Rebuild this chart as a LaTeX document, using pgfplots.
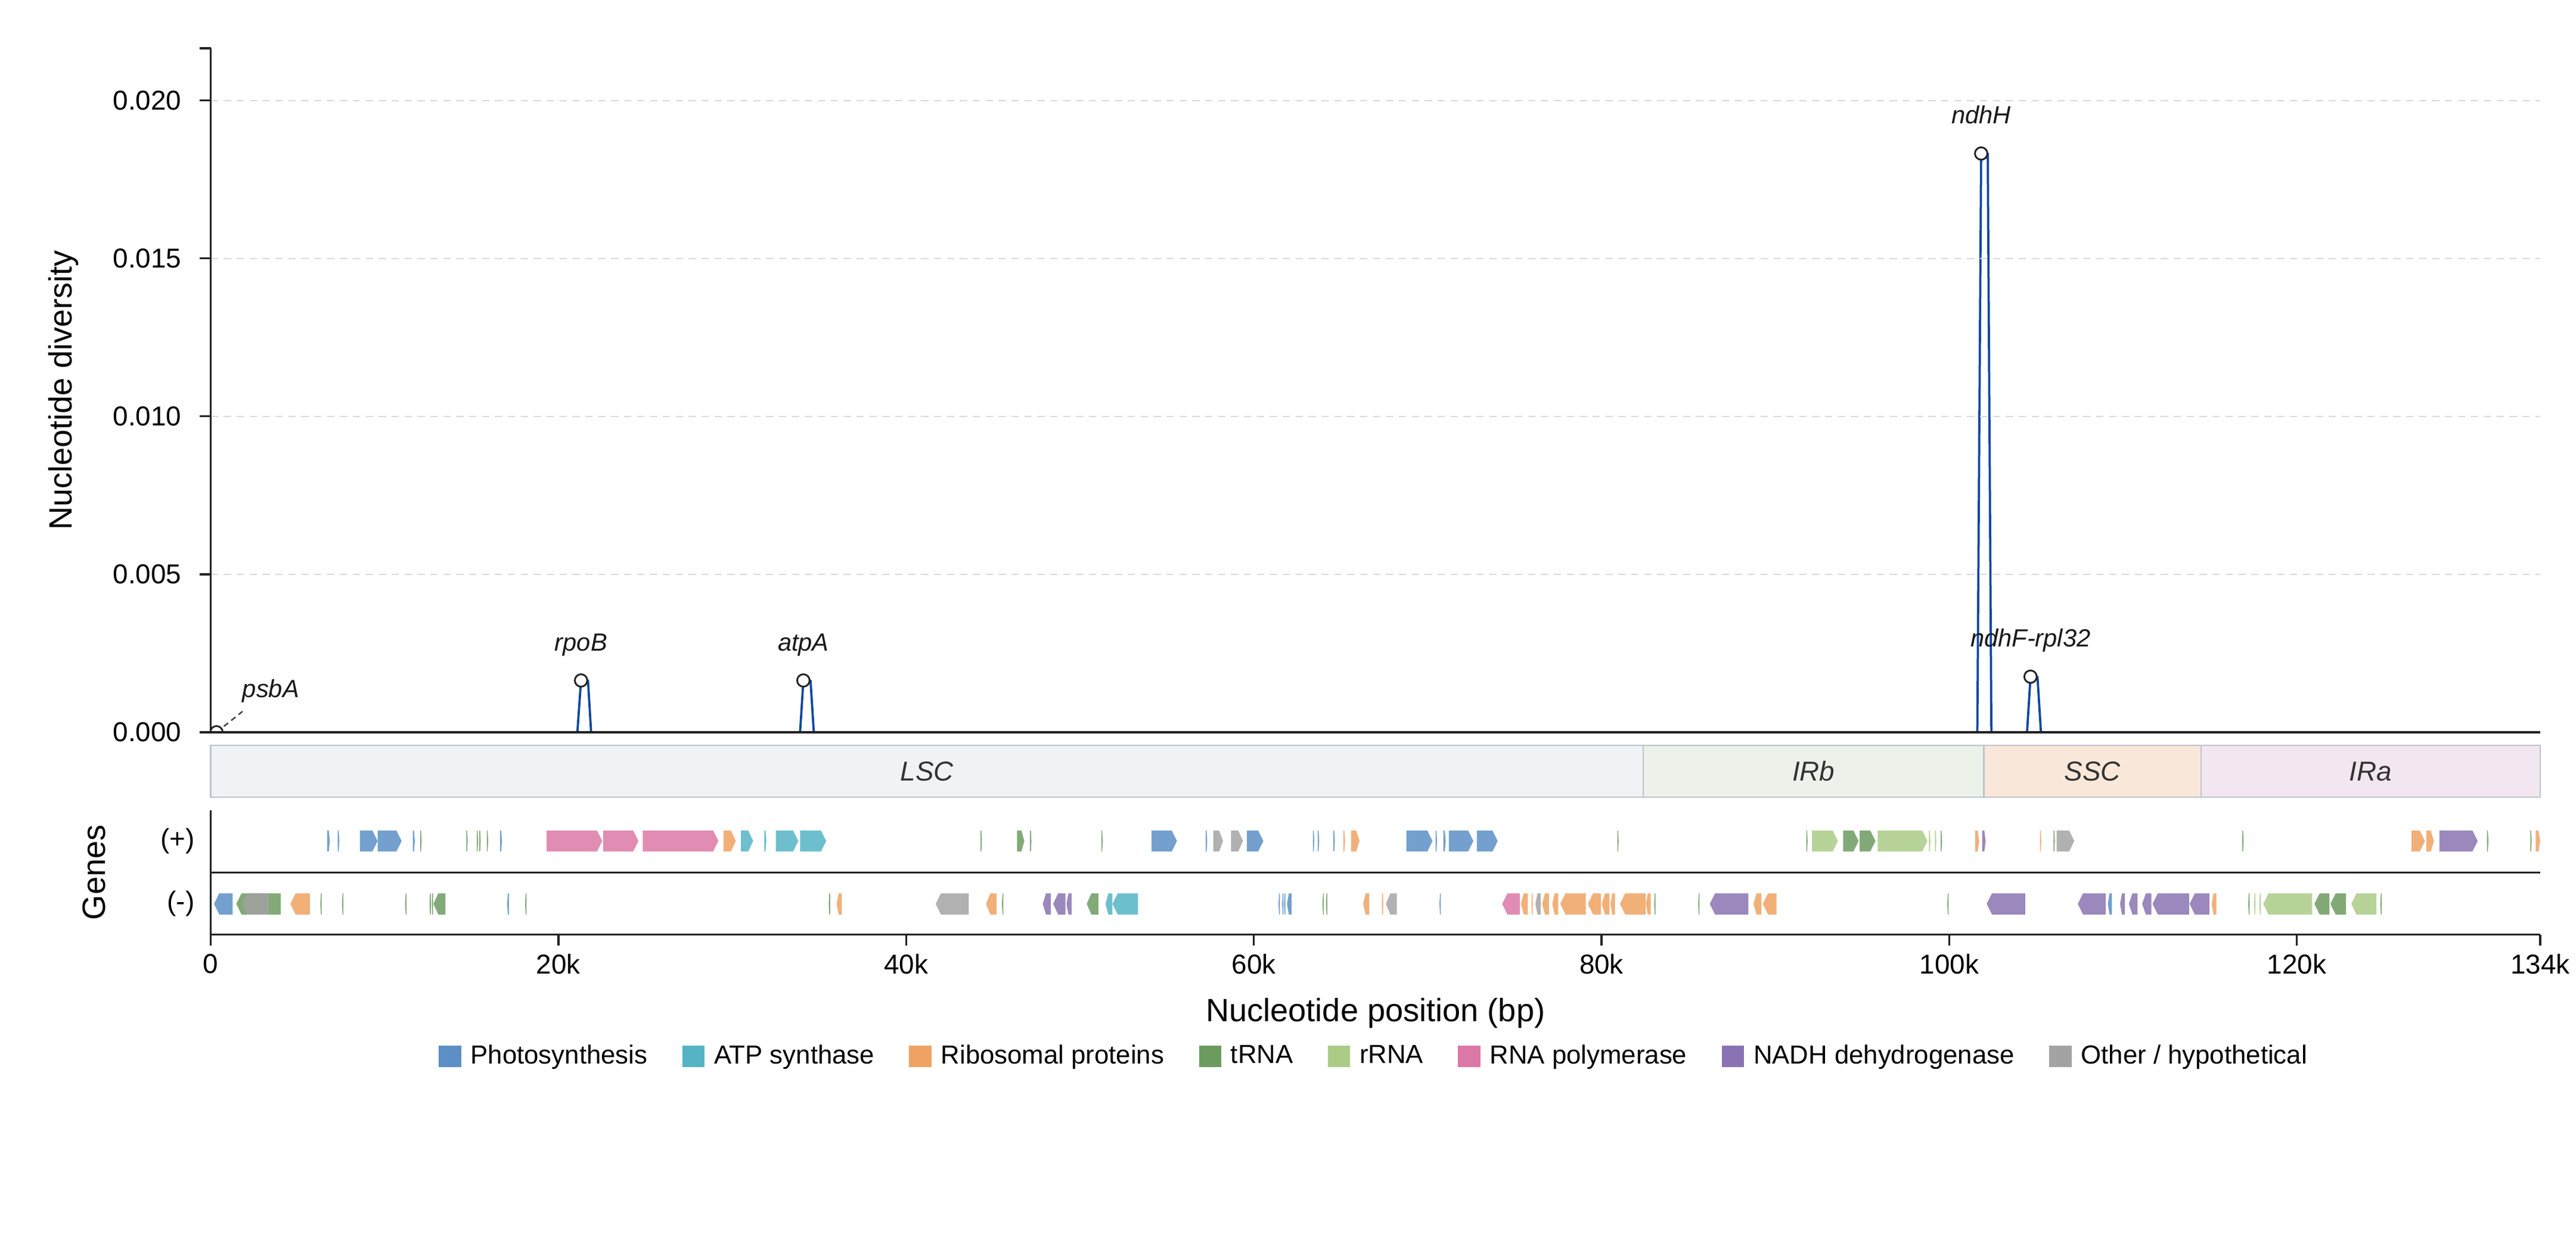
\documentclass[border=0pt]{standalone}
\usepackage{fontspec}
\setmainfont{Liberation Sans}
\usepackage{pgfplots}
\usepackage{pgfplotstable}
\pgfplotsset{compat=1.18}

\definecolor{cPhoto}{RGB}{91,143,198}
\definecolor{cATP}{RGB}{85,180,196}
\definecolor{cRibo}{RGB}{240,162,98}
\definecolor{cTRNA}{RGB}{108,155,95}
\definecolor{cRRNA}{RGB}{171,203,134}
\definecolor{cRNAP}{RGB}{220,120,166}
\definecolor{cNADH}{RGB}{138,115,178}
\definecolor{cOther}{RGB}{163,163,163}
\definecolor{cLine}{RGB}{12,72,160}
\definecolor{cAxis}{RGB}{34,34,34}
\definecolor{cGrid}{RGB}{214,219,224}
\definecolor{cRegB}{RGB}{187,196,206}
\definecolor{cLSC}{RGB}{239,243,246}
\definecolor{cIRb}{RGB}{236,242,233}
\definecolor{cSSC}{RGB}{249,232,217}
\definecolor{cIRa}{RGB}{242,230,241}
\definecolor{cLab}{RGB}{51,51,51}

% gene arrow: drawn from start s, length (e-s) kb, 7pt per kb
\pgfdeclareplotmark{gene}{%
  \pgfmathsetmacro\gLen{(\gE-\gS)*7.0}%
  \pgfmathsetmacro\gTip{min(0.3,0.4*(\gE-\gS))*7.0}%
  \pgfmathsetmacro\gMid{\gLen-\gTip}%
  \ifdim\gD pt>0pt\relax
    \pgfpathmoveto{\pgfqpoint{0pt}{-4.24pt}}%
    \pgfpathlineto{\pgfqpoint{\gMid pt}{-4.24pt}}%
    \pgfpathlineto{\pgfqpoint{\gLen pt}{0pt}}%
    \pgfpathlineto{\pgfqpoint{\gMid pt}{4.24pt}}%
    \pgfpathlineto{\pgfqpoint{0pt}{4.24pt}}%
  \else
    \pgfpathmoveto{\pgfqpoint{0pt}{0pt}}%
    \pgfpathlineto{\pgfqpoint{\gTip pt}{-4.24pt}}%
    \pgfpathlineto{\pgfqpoint{\gLen pt}{-4.24pt}}%
    \pgfpathlineto{\pgfqpoint{\gLen pt}{4.24pt}}%
    \pgfpathlineto{\pgfqpoint{\gTip pt}{4.24pt}}%
  \fi
  \pgfpathclose
  \pgfusepathqfill
}

\pgfplotsset{
  genes/.style={only marks, scatter, mark=gene, point meta=y, forget plot,
    scatter/@pre marker code/.code={}, scatter/@post marker code/.code={},
    visualization depends on={\thisrow{s}\as\gS},
    visualization depends on={\thisrow{e}\as\gE},
    visualization depends on={\thisrow{d}\as\gD},
    mark options={draw=none, fill=#1, fill opacity=0.85}},
}
\tikzset{
  lab/.style={font=\itshape\fontsize{10}{12}\selectfont, text=black!90, inner sep=0pt},
  reg/.style={font=\itshape\fontsize{11}{13}\selectfont, text=cLab},
}

% positions in kb, d = strand
\pgfplotstableread{
s e d
6.70 6.85 1
7.30 7.40 1
8.58 9.60 1
9.60 10.98 1
11.62 11.74 1
16.65 16.75 1
54.12 55.58 1
57.24 57.32 1
59.61 60.55 1
63.40 63.48 1
63.68 63.76 1
64.58 64.66 1
68.78 70.28 1
70.46 70.54 1
70.90 71.04 1
71.22 72.63 1
72.83 74.03 1
0.19 1.26 -1
17.05 17.15 -1
61.42 61.50 -1
61.63 61.71 -1
61.74 61.82 -1
61.91 62.17 -1
70.68 70.76 -1
109.13 109.36 -1
}\tabPhoto

\pgfplotstableread{
s e d
30.50 31.20 1
31.84 31.96 1
32.50 33.80 1
33.90 35.40 1
51.47 51.87 -1
51.87 53.34 -1
}\tabATP

\pgfplotstableread{
s e d
29.50 30.20 1
65.15 65.25 1
65.60 66.08 1
101.49 101.73 1
105.22 105.30 1
126.60 127.37 1
127.45 127.88 1
133.74 134.00 1
4.58 5.70 -1
36.00 36.30 -1
44.60 45.20 -1
66.29 66.64 -1
67.36 67.44 -1
75.37 75.76 -1
75.97 76.05 -1
76.59 76.98 -1
77.17 77.51 -1
77.63 79.10 -1
79.22 79.96 -1
80.02 80.46 -1
80.52 80.78 -1
81.06 82.53 -1
82.55 82.83 -1
88.74 89.20 -1
89.28 90.07 -1
115.10 115.37 -1
}\tabRibo

\pgfplotstableread{
s e d
12.05 12.13 1
14.70 14.78 1
15.30 15.38 1
15.45 15.53 1
15.88 15.96 1
44.28 44.36 1
46.38 46.80 1
47.13 47.21 1
51.23 51.31 1
80.91 80.99 1
91.78 91.86 1
93.90 94.79 1
94.85 95.76 1
99.51 99.59 1
106.00 106.08 1
116.86 116.94 1
130.94 131.02 1
133.43 133.51 1
1.47 4.02 -1
6.30 6.38 -1
7.55 7.63 -1
11.18 11.26 -1
12.58 12.66 -1
12.71 12.79 -1
12.81 13.50 -1
18.08 18.16 -1
35.55 35.63 -1
45.51 45.59 -1
50.39 51.06 -1
63.95 64.03 -1
64.15 64.23 -1
83.03 83.11 -1
85.56 85.64 -1
99.89 99.97 -1
117.20 117.28 -1
121.01 121.88 -1
121.93 122.83 -1
124.80 124.88 -1
}\tabTRNA

\pgfplotstableread{
s e d
92.11 93.60 1
95.89 98.75 1
98.84 98.92 1
99.18 99.26 1
117.54 117.62 -1
117.84 117.92 -1
118.07 120.88 -1
123.13 124.58 -1
}\tabRRNA

\pgfplotstableread{
s e d
19.32 22.52 1
22.58 24.60 1
24.85 29.20 1
74.29 75.30 -1
}\tabRNAP

\pgfplotstableread{
s e d
101.90 102.10 1
128.20 130.40 1
47.86 48.32 -1
48.46 49.17 -1
49.22 49.52 -1
86.23 88.45 -1
102.16 104.37 -1
107.40 109.00 -1
109.83 110.11 -1
110.34 110.84 -1
111.10 111.63 -1
111.70 113.80 -1
113.83 114.97 -1
}\tabNADH

\pgfplotstableread{
s e d
57.67 58.23 1
58.69 59.38 1
106.18 107.20 1
1.80 3.35 -1
41.70 43.60 -1
67.60 68.23 -1
76.20 76.50 -1
}\tabOther

\begin{document}
\begin{tikzpicture}

% diversity panel
\begin{axis}[
    at={(84.86pt,209.52pt)}, anchor=south west,
    scale only axis, width=938pt, height=275.5pt,
    xmin=0, xmax=134, ymin=0, ymax=0.02165,
    axis x line*=bottom, axis y line*=left,
    xtick=\empty,
    ytick={0,0.005,0.01,0.015,0.02},
    yticklabels={0.000,0.005,0.010,0.015,0.020},
    scaled y ticks=false,
    extra y ticks={0.02165}, extra y tick labels={},
    extra y tick style={grid=none},
    ymajorgrids,
    major grid style={draw=cGrid, line width=0.5pt, dash pattern=on 3pt off 2.2pt},
    tick align=outside, major tick length=4.5pt,
    axis line style={line width=0.8pt, draw=cAxis},
    tick style={line width=0.8pt, draw=cAxis},
    tick label style={font=\fontsize{11}{13}\selectfont},
    yticklabel style={xshift=-3.8pt},
    ylabel={Nucleotide diversity},
    every axis y label/.style={at={(axis description cs:0,0.5)}, xshift=-59.2pt,
        rotate=90, anchor=center, font=\fontsize{13}{15}\selectfont},
    axis on top, clip marker paths=true,
]
\addplot[cLine, line width=0.9pt, line join=round] coordinates {
    (0,0) (21.09,0) (21.30,0.00164) (21.70,0.00164) (21.88,0)
    (33.90,0) (34.09,0.00164) (34.50,0.00164) (34.69,0)
    (101.62,0) (101.84,0.01832) (102.22,0.01832) (102.43,0)
    (104.48,0) (104.68,0.00176) (105.08,0.00176) (105.28,0) (134,0)
};
\addplot[cAxis!85, line width=0.6pt, dash pattern=on 2.2pt off 1.6pt] coordinates {(0.33,0) (1.83,0.00066)};
\addplot[only marks, mark=*, mark size=2.5pt,
    mark options={fill=white, draw=cAxis, line width=0.7pt}] coordinates {
    (0.33,0) (21.30,0.00164) (34.09,0.00164) (101.84,0.01832) (104.68,0.00176)
};
\node[lab, anchor=base west] at (axis cs:1.80,0.0011) {psbA};
\node[lab, anchor=base, yshift=12pt] at (axis cs:21.30,0.00164) {rpoB};
\node[lab, anchor=base, yshift=12pt] at (axis cs:34.09,0.00164) {atpA};
\node[lab, anchor=base, yshift=12pt] at (axis cs:101.84,0.01832) {ndhH};
\node[lab, anchor=base, yshift=12pt] at (axis cs:104.68,0.00176) {ndhF-rpl32};
\end{axis}

% genome regions
\begin{axis}[
    at={(84.86pt,183.36pt)}, anchor=south west,
    scale only axis, width=938pt, height=20.88pt,
    xmin=0, xmax=134, ymin=0, ymax=1,
    hide axis, clip=false,
]
\addplot[fill=cLSC, draw=cRegB, line width=0.6pt] coordinates {(0,0) (82.4,0) (82.4,1) (0,1)} -- cycle;
\addplot[fill=cIRb, draw=cRegB, line width=0.6pt] coordinates {(82.4,0) (102.0,0) (102.0,1) (82.4,1)} -- cycle;
\addplot[fill=cSSC, draw=cRegB, line width=0.6pt] coordinates {(102.0,0) (114.5,0) (114.5,1) (102.0,1)} -- cycle;
\addplot[fill=cIRa, draw=cRegB, line width=0.6pt] coordinates {(114.5,0) (134,0) (134,1) (114.5,1)} -- cycle;
\node[reg] at (axis cs:41.2,0.5) {LSC};
\node[reg] at (axis cs:92.2,0.5) {IRb};
\node[reg] at (axis cs:108.25,0.5) {SSC};
\node[reg] at (axis cs:124.25,0.5) {IRa};
\end{axis}

% gene track
\begin{axis}[
    at={(84.86pt,127.97pt)}, anchor=south west,
    scale only axis, width=938pt, height=50.16pt,
    xmin=0, xmax=134, ymin=-1.98, ymax=1.98,
    axis x line*=bottom, axis y line*=left,
    y axis line style={draw=none},
    xtick={0,20,40,60,80,100,120,134},
    xticklabels={0,20k,40k,60k,80k,100k,120k,134k},
    ytick={-1,1}, yticklabels={(-),(+)},
    tick align=outside, major tick length=4.3pt,
    axis line style={line width=0.8pt, draw=cAxis},
    tick style={line width=0.8pt, draw=cAxis},
    ytick style={draw=none},
    tick label style={font=\fontsize{11}{13}\selectfont},
    yticklabel style={xshift=1.3pt},
    xlabel={Nucleotide position (bp)},
    ylabel={Genes},
    every axis x label/.style={at={(axis description cs:0.5,0)}, yshift=-31.5pt,
        anchor=center, font=\fontsize{13}{15}\selectfont},
    every axis y label/.style={at={(axis description cs:0,0.5)}, xshift=-46.9pt,
        rotate=90, anchor=center, font=\fontsize{13}{15}\selectfont},
    legend columns=8,
    legend image code/.code={\fill[#1] (0pt,-4.4pt) rectangle (9pt,4.4pt);
        \path (0pt,0pt) -- (10.8pt,0pt);},
    legend style={at={(axis description cs:0.5,0)}, anchor=center, yshift=-49pt,
        draw=none, fill=none, font=\fontsize{10.5}{12}\selectfont,
        /tikz/every even column/.append style={column sep=12pt}},
]
\addlegendimage{fill=cPhoto, draw=none}\addlegendentry{Photosynthesis}
\addlegendimage{fill=cATP, draw=none}\addlegendentry{ATP synthase}
\addlegendimage{fill=cRibo, draw=none}\addlegendentry{Ribosomal proteins}
\addlegendimage{fill=cTRNA, draw=none}\addlegendentry{tRNA}
\addlegendimage{fill=cRRNA, draw=none}\addlegendentry{rRNA}
\addlegendimage{fill=cRNAP, draw=none}\addlegendentry{RNA polymerase}
\addlegendimage{fill=cNADH, draw=none}\addlegendentry{NADH dehydrogenase}
\addlegendimage{fill=cOther, draw=none}\addlegendentry{Other / hypothetical}

\addplot[cAxis, line width=0.6pt, forget plot] coordinates {(0,0) (134,0)};
\addplot[genes=cPhoto] table[x=s, y=d] {\tabPhoto};
\addplot[genes=cATP] table[x=s, y=d] {\tabATP};
\addplot[genes=cRibo] table[x=s, y=d] {\tabRibo};
\addplot[genes=cTRNA] table[x=s, y=d] {\tabTRNA};
\addplot[genes=cRRNA] table[x=s, y=d] {\tabRRNA};
\addplot[genes=cRNAP] table[x=s, y=d] {\tabRNAP};
\addplot[genes=cNADH] table[x=s, y=d] {\tabNADH};
\addplot[genes=cOther] table[x=s, y=d] {\tabOther};
\end{axis}
\pgfresetboundingbox
\path (0,0) rectangle (1037.28pt,504.48pt);
\end{tikzpicture}
\end{document}
